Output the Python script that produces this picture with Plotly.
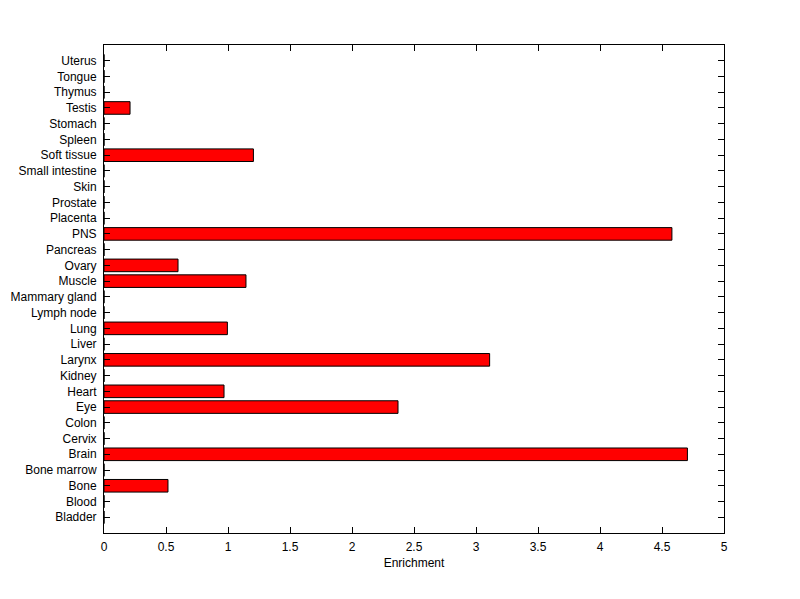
import plotly.graph_objects as go

categories = ["Bladder", "Blood", "Bone", "Bone marrow", "Brain", "Cervix", "Colon", "Eye",
              "Heart", "Kidney", "Larynx", "Liver", "Lung", "Lymph node", "Mammary gland",
              "Muscle", "Ovary", "Pancreas", "PNS", "Placenta", "Prostate", "Skin",
              "Small intestine", "Soft tissue", "Spleen", "Stomach", "Testis", "Thymus",
              "Tongue", "Uterus"]
values = [0, 0, 0.516, 0, 4.705, 0, 0, 2.371,
          0.968, 0, 3.11, 0, 0.995, 0, 0,
          1.145, 0.597, 0, 4.58, 0, 0, 0,
          0, 1.205, 0, 0, 0.21, 0,
          0, 0]
x_ticks = [0, 0.5, 1, 1.5, 2, 2.5, 3, 3.5, 4, 4.5, 5]
x_tick_labels = ["0", "0.5", "1", "1.5", "2", "2.5", "3", "3.5", "4", "4.5", "5"]

positions = list(range(1, len(categories) + 1))

fig = go.Figure()
fig.add_trace(go.Bar(
    x=values, y=positions, orientation="h", width=0.8,
    marker=dict(color="#ff0000", line=dict(color="black", width=1)),
    showlegend=False, hoverinfo="skip",
))

font = dict(family="Liberation Sans, Arial, sans-serif", size=12, color="black")
fig.update_layout(
    width=800, height=599,
    margin=dict(l=104, r=76, t=45, b=66),
    paper_bgcolor="white", plot_bgcolor="white",
    font=font,
)
fig.update_xaxes(
    range=[0, 5], tickvals=x_ticks, ticktext=x_tick_labels, automargin=False,
    showline=True, linecolor="black", linewidth=1, mirror="ticks",
    ticks="inside", ticklen=6, tickcolor="black", tickwidth=1,
    showgrid=False, zeroline=False, ticklabelstandoff=3,
    title=dict(text="Enrichment", font=font, standoff=5),
)
fig.update_yaxes(
    range=[0, 31], tickvals=positions, ticktext=categories, automargin=False,
    showline=True, linecolor="black", linewidth=1, mirror="ticks",
    ticks="inside", ticklen=6, tickcolor="black", tickwidth=1,
    showgrid=False, zeroline=False, ticklabelstandoff=4,
)
fig.write_html("out.html", config={"displayModeBar": False},
               post_script="document.body.style.margin='0';")
